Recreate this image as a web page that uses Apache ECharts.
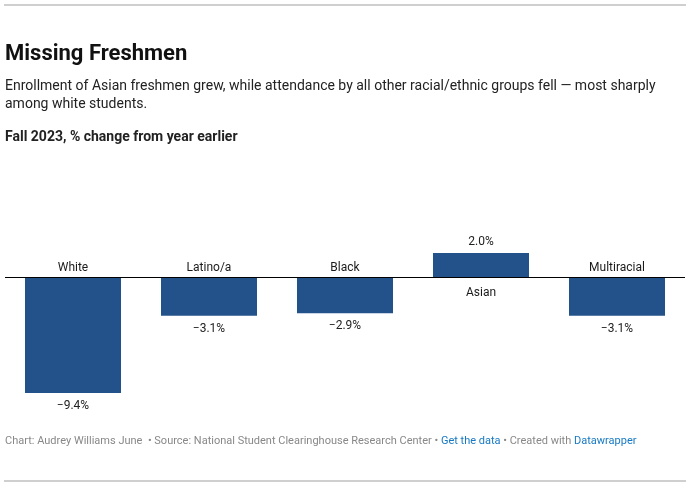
<!DOCTYPE html>
<html>
<head>
<meta charset="utf-8">
<script src="https://cdn.jsdelivr.net/npm/echarts@6/dist/echarts.min.js"></script>
<style>
html,body{margin:0;padding:0;background:#fff;}
#chart{width:698px;height:494px;}
</style>
</head>
<body>
<div id="chart"></div>
<script>
const categories = ["White", "Latino/a", "Black", "Asian", "Multiracial"];
const values = [-9.4, -3.1, -2.9, 2.0, -3.1];

const FONT = 'Roboto, "Noto Sans", sans-serif';
const BAR = '#23528a';

function fmt(v) {
  const s = Math.abs(v).toFixed(1) + '%';
  return v < 0 ? '\u2212' + s : s;
}

const chart = echarts.init(document.getElementById('chart'), null, {renderer: 'canvas'});

chart.setOption({
  animation: false,
  backgroundColor: '#fff',
  textStyle: {fontFamily: FONT},
  title: [
    {text: 'Missing Freshmen', left: 5, top: 43, padding: 0,
     textStyle: {fontFamily: FONT, fontSize: 22, fontWeight: 'bold', color: '#111'}},
    {text: 'Enrollment of Asian freshmen grew, while attendance by all other racial/ethnic groups fell \u2014 most sharply\namong white students.',
     left: 5, top: 77, padding: 0,
     textStyle: {fontFamily: FONT, fontSize: 14, fontWeight: 'normal', color: '#222', lineHeight: 18}},
    {text: 'Fall 2023, % change from year earlier', left: 5, top: 130, padding: 0,
     textStyle: {fontFamily: FONT, fontSize: 14, fontWeight: 'bold', color: '#222'}},
    {text: '{g|Chart: Audrey Williams June  \u2022 Source: National Student Clearinghouse Research Center \u2022 }{b|Get the data}{g| \u2022 Created with }{b|Datawrapper}',
     left: 5, top: 436, padding: 0,
     textStyle: {fontFamily: FONT, fontSize: 11, fontWeight: 'normal',
       rich: {
         g: {fontFamily: FONT, fontSize: 11, color: '#888'},
         b: {fontFamily: FONT, fontSize: 11, color: '#1779c4'}
       }}}
  ],
  graphic: [
    {type: 'rect', shape: {x: 4, y: 4, width: 682, height: 2}, style: {fill: '#cfcfcf'}},
    {type: 'rect', shape: {x: 4, y: 480, width: 682, height: 2}, style: {fill: '#cfcfcf'}}
  ],
  grid: {left: 5, right: 13, top: 253, height: 140, containLabel: false},
  xAxis: {
    type: 'category', data: categories,
    axisLine: {show: false}, axisTick: {show: false}, axisLabel: {show: false},
    splitLine: {show: false}
  },
  yAxis: {
    type: 'value', min: -9.4, max: 2.0,
    show: false, splitLine: {show: false}
  },
  series: [
    {
      type: 'bar',
      data: values.map(v => ({
        value: v,
        label: {position: v < 0 ? 'bottom' : 'top', distance: v < 0 ? 7 : 5}
      })),
      barCategoryGap: '29.4%',
      itemStyle: {color: BAR},
      label: {show: true, fontFamily: FONT, fontSize: 12, color: '#222',
        formatter: p => fmt(p.value)},
      markLine: {
        silent: true, symbol: 'none',
        lineStyle: {color: '#000', width: 1, type: 'solid'},
        label: {show: false},
        data: [{yAxis: 0}]
      },
      z: 2
    },
    {
      type: 'scatter',
      data: values.map((v, i) => ({
        name: categories[i],
        value: [i, 0],
        label: {position: v < 0 ? 'top' : 'bottom', distance: v < 0 ? 3 : 8}
      })),
      symbolSize: 2,
      itemStyle: {color: 'rgba(0,0,0,0)'},
      labelLayout: {hideOverlap: false},
      label: {show: true, opacity: 1, fontFamily: FONT, fontSize: 12, color: '#1a1a1a',
        formatter: p => p.name},
      z: 3
    }
  ]
});
</script>
</body>
</html>
